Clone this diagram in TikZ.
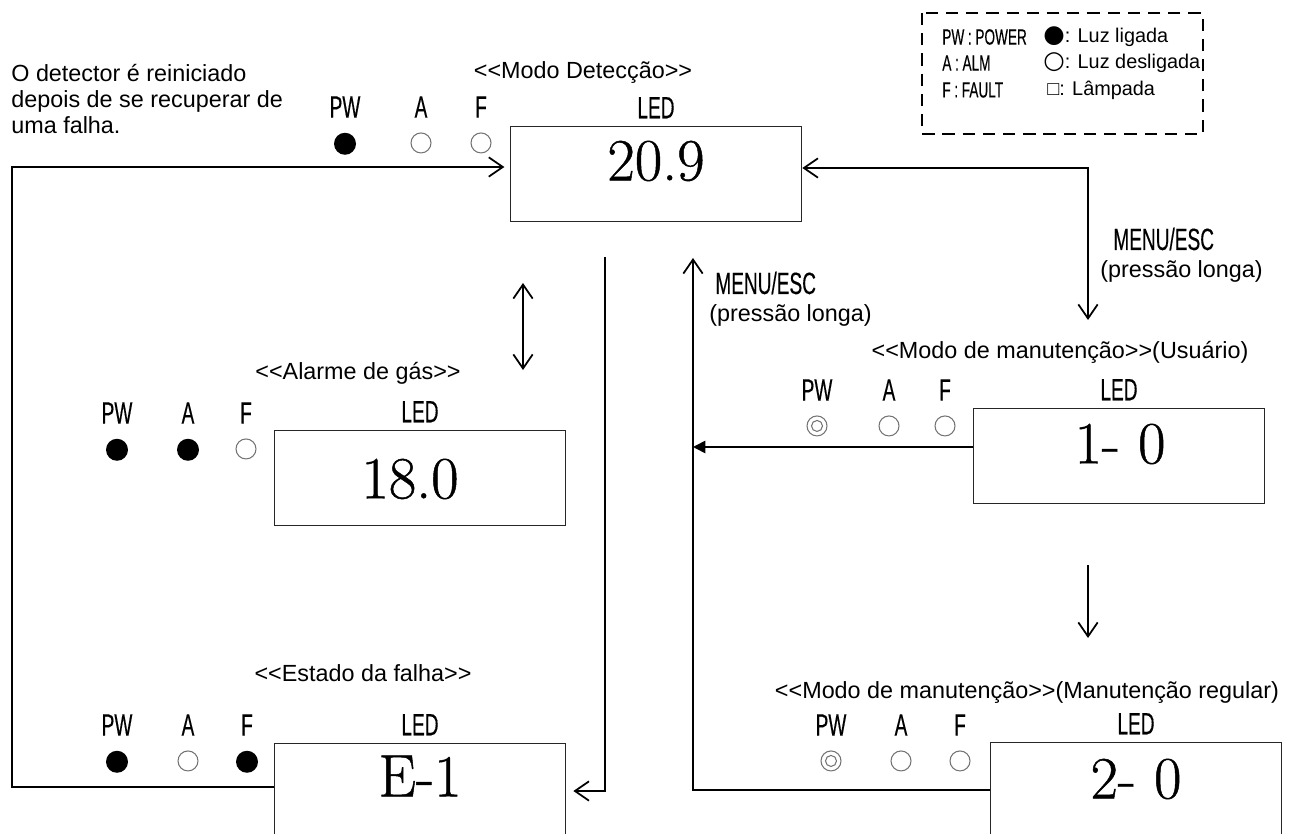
\documentclass[tikz,border=0pt]{standalone}
\usepackage{fontspec}
\setmainfont{Liberation Sans}
\newfontfamily\gothic[FakeStretch=0.62, FakeBold=0.3]{Liberation Sans}
\newfontfamily\lmdigits[FakeBold=0.8]{Latin Modern Roman}
\newfontfamily\symb{DejaVu Sans}
\usetikzlibrary{arrows.meta,positioning}
\newcommand\ltlt{<\kern0pt<}
\newcommand\gtgt{>\kern0pt>}

\begin{document}
\begin{tikzpicture}[x=0.02cm, y=-0.02cm,
    lcd/.style={draw=black!85, line width=1pt, minimum width=5.82cm, minimum height=1.9cm, inner sep=0},
    digits/.style={font=\lmdigits\fontsize{34}{34}\selectfont, inner sep=0},
    ledtxt/.style={font=\gothic\fontsize{17.5}{17.5}\selectfont, inner sep=0},
    legtxt/.style={font=\gothic\fontsize{12.5}{12.5}\selectfont, inner sep=0, anchor=west},
    legsym/.style={font=\fontsize{11.3}{12}\selectfont, inner sep=0, anchor=west},
    modetitle/.style={font=\fontsize{13.3}{14.7}\selectfont, inner sep=0},
    ledon/.style={circle, fill=black, minimum size=0.44cm, inner sep=0},
    ledoff/.style={circle, draw=black!55, line width=0.6pt, minimum size=0.4cm, inner sep=0},
    ledblink/.style={ledoff, path picture={\draw[black!55, line width=0.6pt] (path picture bounding box.center) circle[radius=0.11cm];}},
    arr/.style={line width=1pt, -{Straight Barb[length=8pt, width=11pt]}},
    darr/.style={line width=1pt, {Straight Barb[length=8pt, width=11pt]}-{Straight Barb[length=8pt, width=11pt]}},
    farr/.style={line width=1pt, -{Triangle[length=7pt, width=7pt]}}]
  \useasboundingbox (0,0) rectangle (1300,834);

  % LCD displays
  \node[lcd] (box-det)   at (656,174) {};
  \node[lcd] (box-gas)   at (420,478) {};
  \node[lcd] (box-fault) at (420,791) {};
  \node[lcd] (box-user)  at (1119,456) {};
  \node[lcd] (box-reg)   at (1136,790) {};
  \node[digits] (val-det)   at (656,161) {20.9};
  \node[digits] (val-gas)   at (410,479) {18.0};
  \node[digits] (val-fault) at (420,776) {E-1};
  \node[digits] (val-user)  at (1120,444) {1- 0};
  \node[digits] (val-reg)   at (1136,779) {2- 0};
  \foreach \g in {det,gas,fault,user,reg}
    \node[ledtxt, above=0.14cm of box-\g] (led-\g) {LED};

  % PW / A / F lamps
  \foreach \g/\xp/\xa/\xf/\y/\stp/\sta/\stf in {det/345/421/481/107/ledon/ledoff/ledoff,
      gas/117/188/246/413/ledon/ledon/ledoff, fault/117/188/247/725/ledon/ledoff/ledon,
      user/817/889/945/390/ledblink/ledoff/ledoff, reg/831/901/960/725/ledblink/ledoff/ledoff} {
    \node[ledtxt] (pw-\g) at (\xp,\y) {PW};
    \node[ledtxt] (a-\g)  at (\xa,\y) {A};
    \node[ledtxt] (f-\g)  at (\xf,\y) {F};
    \node[\stp, below=0.29cm of pw-\g] (pwl-\g) {};
    \node[\sta, below=0.29cm of a-\g]  (al-\g)  {};
    \node[\stf, below=0.29cm of f-\g]  (fl-\g)  {};
  }

  % titles
  \node[modetitle] (title-det)   at (583,73)   {\ltlt Modo Detecção\gtgt};
  \node[modetitle] (title-gas)   at (358,373)  {\ltlt Alarme de gás\gtgt};
  \node[modetitle] (title-fault) at (363,673)  {\ltlt Estado da falha\gtgt};
  \node[modetitle] (title-user)  at (1060,352) {\ltlt Modo de manutenção\gtgt(Usuário)};
  \node[modetitle] (title-reg)   at (1027,693) {\ltlt Modo de manutenção\gtgt(Manutenção regular)};
  \node[modetitle, align=left, anchor=north west] (note) at (11,64)
    {O detector é reiniciado\\depois de se recuperar de\\uma falha.};
  \node[ledtxt, anchor=west]    (menu-up)   at (715,283)  {MENU/ESC};
  \node[modetitle, anchor=west] (long-up)   at (709,315)  {(pressão longa)};
  \node[ledtxt, anchor=west]    (menu-down) at (1113,239) {MENU/ESC};
  \node[modetitle, anchor=west] (long-down) at (1100,271) {(pressão longa)};

  % legend
  \draw[line width=1.6pt, dash pattern=on 7pt off 4.5pt] (922,13) rectangle (1203,134);
  \node[legtxt] (leg-pw) at (942,37) {PW\,:\,POWER};
  \node[legtxt] (leg-a)  at (942,63) {A\,:\,ALM};
  \node[legtxt] (leg-f)  at (942,90) {F\,:\,FAULT};
  \node[legsym] (leg-on)   at (1043,37) {{\symb\fontsize{14}{14}\selectfont ●}: Luz ligada};
  \node[legsym] (leg-off)  at (1043,63) {{\symb\fontsize{14}{14}\selectfont ○}: Luz desligada};
  \node[legsym] (leg-lamp) at (1047,90) {□: Lâmpada};

  \coordinate (loop-bl) at (12,787);
  \coordinate (loop-tl) at (12,167);
  \coordinate (menu-corner) at (1088,168);
  \coordinate (menu-end) at (1088,320);
  \coordinate (swap-top) at (523,283);
  \coordinate (swap-bot) at (523,370);
  \coordinate (drop-top) at (605,257);
  \coordinate (back-top) at (693,258);
  \coordinate (back-mid) at (693,447);
  \coordinate (next-top) at (1088,565);
  \coordinate (next-bot) at (1088,638);

  % Connect the nodes
  \draw[arr, shorten >=3pt] (box-fault.west |- loop-bl) -- (loop-bl) -- (loop-tl) -- (box-det.west |- loop-tl);
  \draw[darr] (box-det.east |- menu-corner) -- (menu-corner) -- (menu-end);
  \draw[darr] (swap-top) -- (swap-bot);
  \draw[arr, shorten >=4pt] (drop-top) |- (box-fault.east);
  \draw[farr] (box-user.west |- back-mid) -- (back-mid);
  \draw[arr] (box-reg.west) -| (back-top);
  \draw[arr] (next-top) -- (next-bot);
\end{tikzpicture}
\end{document}
